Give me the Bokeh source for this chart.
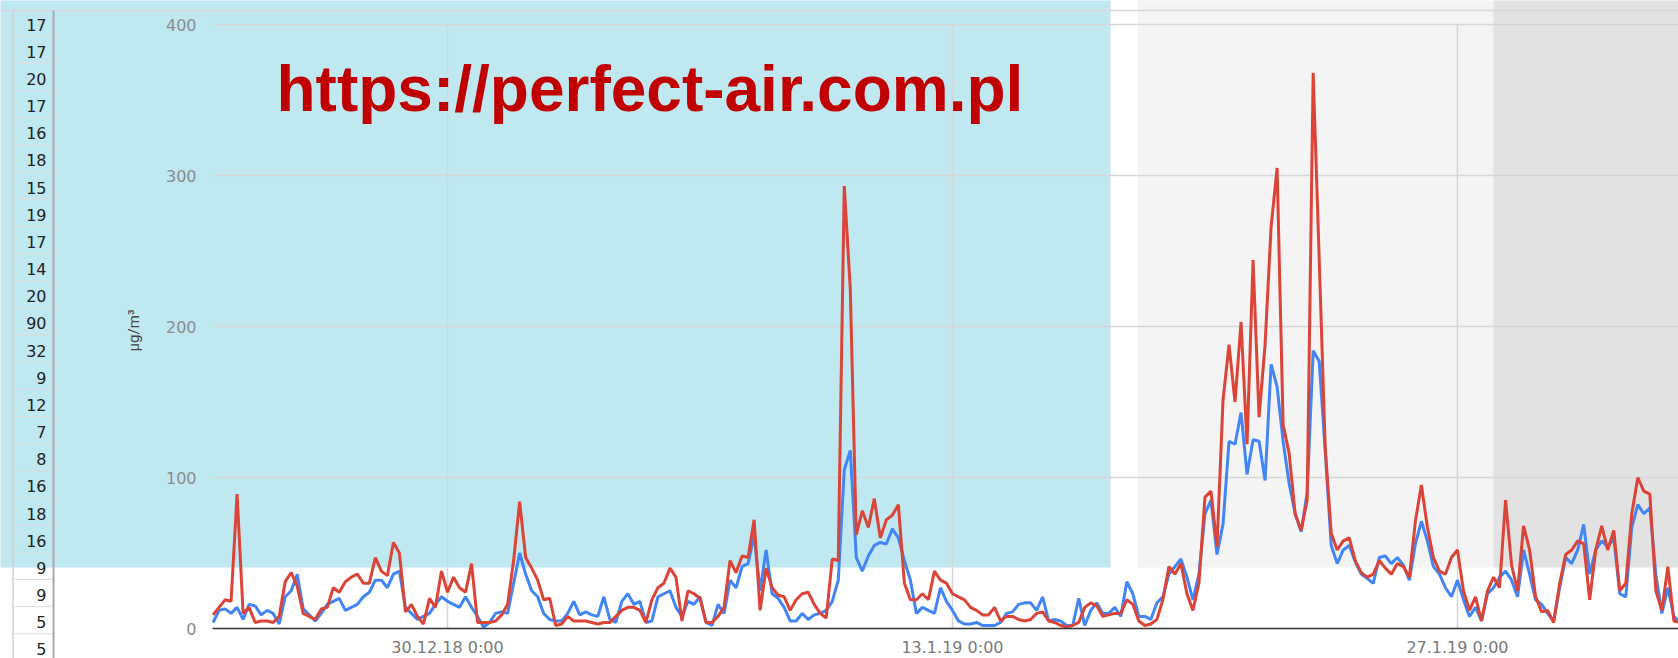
import numpy as np
import pandas as pd
from bokeh.plotting import figure
from bokeh.models import Range1d, FixedTicker
from bokeh.core.properties import value
from bokeh.embed import file_html
from bokeh.resources import INLINE

# ---------------- data (4-hour samples) ----------------
series_start = "2018-12-23 12:00"
pm10 = [9, 14, 19, 18, 89, 10, 14, 4, 5, 5, 4, 8, 31, 37, 28, 10, 8, 6, 13, 14,
        27, 24, 31, 34, 36, 30, 30, 47, 38, 35, 57, 50, 11, 16, 8, 3, 20, 14, 38, 24,
        34, 27, 24, 43, 4, 4, 4, 5, 9, 16, 45, 84, 47, 40, 32, 19, 20, 2, 3, 8,
        5, 5, 5, 4, 3, 4, 4, 8, 12, 14, 14, 12, 4, 19, 27, 30, 40, 34, 5, 25,
        23, 20, 4, 4, 8, 14, 45, 37, 48, 47, 72, 12, 40, 27, 22, 21, 12, 19, 23, 24,
        16, 10, 7, 46, 45, 293, 225, 62, 78, 67, 86, 60, 72, 75, 82, 30, 19, 19, 23, 19,
        38, 32, 30, 23, 21, 19, 14, 12, 9, 9, 14, 5, 8, 8, 6, 5, 6, 10, 11, 5,
        4, 2, 1, 2, 4, 14, 17, 15, 8, 9, 10, 10, 19, 16, 5, 2, 3, 6, 19, 41,
        36, 43, 23, 12, 30, 87, 91, 54, 151, 188, 150, 203, 122, 244, 140, 188, 266, 305, 135, 116,
        76, 65, 85, 368, 245, 120, 63, 52, 58, 60, 45, 37, 34, 36, 45, 40, 36, 43, 41, 34,
        71, 95, 67, 47, 38, 36, 47, 52, 25, 12, 21, 5, 25, 34, 27, 85, 42, 25, 68, 52,
        21, 11, 12, 4, 30, 49, 52, 58, 56, 19, 52, 68, 52, 65, 25, 30, 76, 100, 91, 89,
        25, 12, 41, 5, 4]
pm25 = [4, 12, 13, 10, 14, 6, 16, 15, 9, 12, 10, 3, 21, 25, 36, 13, 9, 5, 10, 16,
        18, 20, 12, 14, 16, 21, 24, 32, 32, 27, 36, 38, 14, 10, 6, 8, 10, 16, 21, 18,
        16, 14, 21, 14, 8, 1, 4, 10, 11, 10, 30, 50, 36, 25, 21, 10, 6, 5, 5, 10,
        18, 9, 11, 9, 8, 21, 6, 4, 18, 23, 16, 18, 4, 5, 21, 23, 25, 14, 8, 18,
        16, 21, 4, 2, 16, 10, 32, 27, 41, 43, 62, 25, 52, 23, 20, 14, 5, 5, 10, 6,
        9, 10, 12, 18, 32, 105, 118, 47, 38, 48, 55, 57, 56, 66, 60, 45, 32, 10, 14, 12,
        10, 27, 18, 12, 5, 3, 3, 4, 2, 2, 2, 4, 10, 11, 16, 17, 17, 12, 21, 5,
        6, 5, 2, 2, 20, 2, 12, 17, 10, 10, 14, 8, 31, 23, 8, 8, 6, 17, 21, 36,
        41, 46, 34, 19, 36, 76, 85, 49, 69, 124, 122, 143, 102, 125, 124, 98, 175, 160, 124, 96,
        76, 64, 90, 184, 177, 118, 55, 43, 52, 55, 44, 36, 33, 30, 47, 48, 43, 47, 42, 32,
        56, 71, 58, 41, 36, 27, 21, 32, 19, 8, 14, 5, 23, 27, 34, 38, 32, 21, 52, 36,
        19, 16, 10, 5, 27, 47, 43, 52, 69, 36, 52, 58, 54, 60, 23, 21, 67, 82, 76, 80,
        36, 10, 27, 8, 4]
y_ticks = [0, 100, 200, 300, 400]
x_tick_dates = ["2018-12-30 00:00", "2019-01-13 00:00", "2019-01-27 00:00"]
x_tick_labels = ["30.12.18 0:00", "13.1.19 0:00", "27.1.19 0:00"]
table_values = [17, 17, 20, 17, 16, 18, 15, 19, 17, 14, 20, 90, 32, 9, 12, 7, 8, 16,
                18, 16, 9, 9, 5, 5]
unit_label = "μg/m³"
watermark = "https://perfect-air.com.pl"

times = pd.date_range(series_start, periods=len(pm10), freq="4h")

# ---------------- layout helpers (reference pixel -> data) ----------------
W, H = 1678, 658
MS_DAY = 86400000.0
PX_PER_DAY = 36.07
ANCHOR_MS = pd.Timestamp(x_tick_dates[0]).value / 1e6
ANCHOR_PX = 447.0
ZERO_PY = 628.0
PX_PER_UNIT = 1.51


def X(px):
    return ANCHOR_MS + (px - ANCHOR_PX) / PX_PER_DAY * MS_DAY


def Y(py):
    return (ZERO_PY - py) / PX_PER_UNIT


p = figure(width=W, height=H, x_axis_type="datetime",
           x_range=Range1d(X(0), X(W)), y_range=Range1d(Y(H), Y(0)),
           output_backend="svg", toolbar_location=None, min_border=0,
           outline_line_color=None, background_fill_color="white",
           border_fill_color="white")
p.xgrid.visible = False
p.ygrid.visible = False

# background panels
p.quad(left=[X(-5), X(1137), X(1493)], right=[X(1110), X(1493), X(1690)],
       bottom=Y(567), top=Y(-5),
       fill_color=["#C0E8F0", "#F4F4F4", "#E2E2E2"], line_color=None)

# top sheet line
p.segment(x0=[X(-5)], x1=[X(1690)], y0=[Y(10)], y1=[Y(10)],
          line_color="#D8D8D8", line_width=1.5)

# chart gridlines
xt_ms = [pd.Timestamp(d).value / 1e6 for d in x_tick_dates]
gy = y_ticks[1:]
p.segment(x0=[X(212)] * len(gy), x1=[X(1690)] * len(gy), y0=gy, y1=gy,
          line_color="#D6D6D6", line_width=1.5)
p.segment(x0=xt_ms, x1=xt_ms, y0=[0] * len(xt_ms), y1=[max(y_ticks)] * len(xt_ms),
          line_color="#D6D6D6", line_width=1.5)

# side table
n = len(table_values)
row_lines = [Y(8.6 + 27.16 * i) for i in range(1, n + 1)]
p.segment(x0=[X(13)] * n, x1=[X(52)] * n, y0=row_lines, y1=row_lines,
          line_color="#DDDDDD", line_width=1)
p.segment(x0=[X(12.5)], x1=[X(12.5)], y0=[Y(10)], y1=[Y(670)],
          line_color="#D0D0D0", line_width=1.5)
p.segment(x0=[X(53)], x1=[X(53)], y0=[Y(10)], y1=[Y(670)],
          line_color="#A8A8A8", line_width=2)
p.text(x=[X(46)] * n, y=[Y(24 + 27.17 * i) for i in range(n)],
       text=[str(v) for v in table_values], text_align="right",
       text_baseline="middle", text_font=value("DejaVu Sans"),
       text_font_size="16px", text_color="#222222")

# data lines
p.line(times, pm25, line_color="#4285F4", line_width=3)
p.line(times, pm10, line_color="#DB4437", line_width=3)

# axes
xa = p.xaxis[0]
xa.fixed_location = 0
xa.bounds = (X(212), X(1690))
xa.ticker = FixedTicker(ticks=xt_ms)
xa.major_label_overrides = {t: lab for t, lab in zip(xt_ms, x_tick_labels)}
xa.axis_line_color = "#333333"
xa.axis_line_width = 1.5
xa.major_tick_line_color = None
xa.minor_tick_line_color = None
xa.major_label_standoff = 3
xa.major_label_text_font = "DejaVu Sans"
xa.major_label_text_font_size = "16px"
xa.major_label_text_color = "#7a7a7a"

ya = p.yaxis[0]
ya.fixed_location = X(212)
ya.ticker = FixedTicker(ticks=y_ticks)
ya.axis_line_color = None
ya.major_tick_line_color = None
ya.minor_tick_line_color = None
ya.major_label_standoff = 10
ya.major_label_text_font = "DejaVu Sans"
ya.major_label_text_font_size = "16px"
ya.major_label_text_color = "#8c8c8c"

# unit label
p.text(x=[X(133)], y=[Y(330)], text=[unit_label], angle=np.pi / 2,
       text_align="center", text_baseline="middle", text_font=value("Roboto"),
       text_font_size="15px", text_color="#444444")

# watermark (middle of the text line placed on the reference's glyph centre)
p.text(x=[X(276)], y=[Y(88)], text=[watermark], text_align="left",
       text_baseline="middle", text_font=value("Liberation Sans"),
       text_font_style="bold", text_font_size="64px", text_color="#C00000")

open("out.html", "w").write(file_html(p, INLINE))
